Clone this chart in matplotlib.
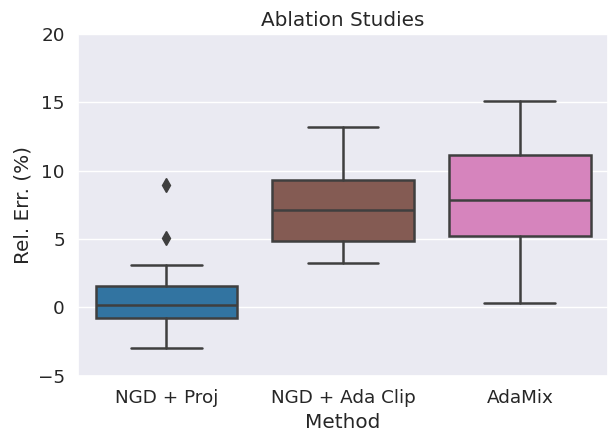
import matplotlib
matplotlib.use("Agg")
import matplotlib.pyplot as plt
import seaborn as sns

sns.set_theme(style="darkgrid", font_scale=1.2)

methods = ["NGD + Proj", "NGD + Ada Clip", "AdaMix"]
medians = [0.17, 7.1, 7.9]
q1 = [-0.75, 4.87, 5.23]
q3 = [1.56, 9.35, 11.15]
whisker_lo = [-3.0, 3.22, 0.36]
whisker_hi = [3.13, 13.18, 15.14]
fliers = [[5.07, 8.99], [], []]
colors = ["#3274a1", "#845b53", "#d684bd"]

stats = []
for i, m in enumerate(methods):
    stats.append(dict(label=m, med=medians[i], q1=q1[i], q3=q3[i],
                      whislo=whisker_lo[i], whishi=whisker_hi[i], fliers=fliers[i]))

fig, ax = plt.subplots(figsize=(6.1, 4.38), dpi=100)
fig.subplots_adjust(left=0.128, right=0.997, top=0.922, bottom=0.142)

line = "#3f3f3f"
bp = ax.bxp(stats, positions=range(len(methods)), widths=0.8, patch_artist=True,
            boxprops=dict(edgecolor=line, linewidth=1.8),
            medianprops=dict(color=line, linewidth=1.8),
            whiskerprops=dict(color=line, linewidth=1.8),
            capprops=dict(color=line, linewidth=1.8),
            flierprops=dict(marker="d", markerfacecolor=line, markeredgecolor=line,
                            markersize=7))
for patch, c in zip(bp["boxes"], colors):
    patch.set_facecolor(c)
for cap in bp["caps"]:
    mid = cap.get_xdata().mean()
    cap.set_xdata([mid - 0.2, mid + 0.2])

ax.set_xlim(-0.5, 2.5)
ax.set_ylim(-5, 20)
ax.set_yticks([-5, 0, 5, 10, 15, 20])
ax.grid(axis="x", visible=False)
ax.set_xlabel("Method")
ax.set_ylabel("Rel. Err. (%)")
ax.set_title("Ablation Studies")

fig.savefig("out.png", dpi=100)
